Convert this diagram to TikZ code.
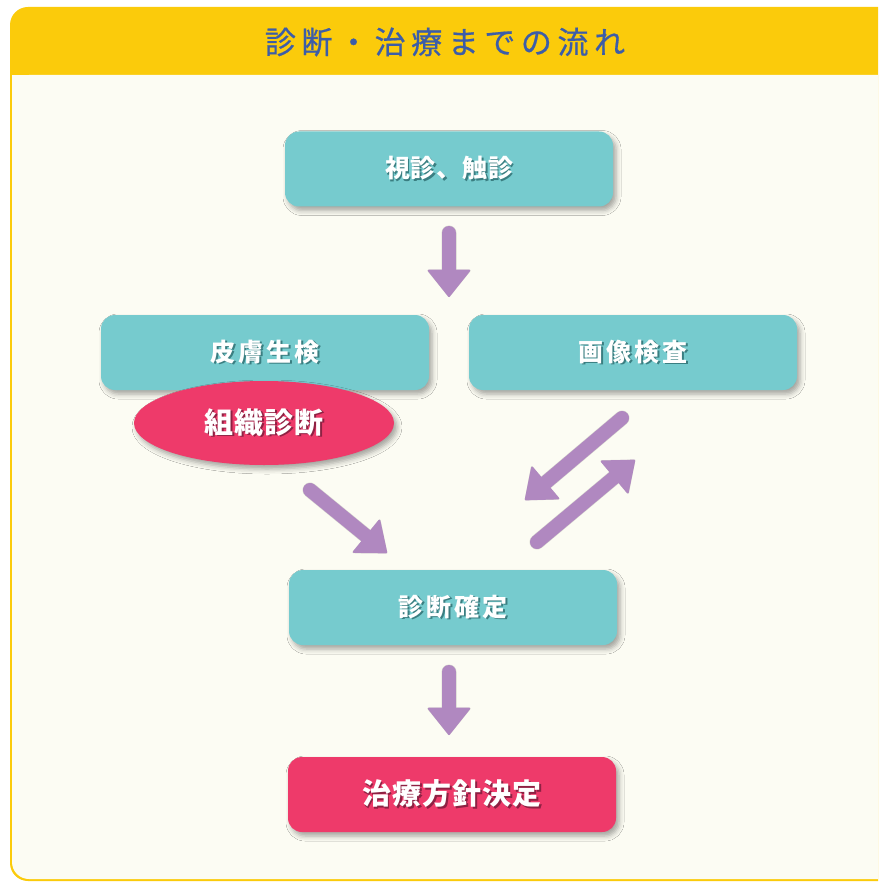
\documentclass[tikz,border=0pt]{standalone}
\usepackage{fontspec}
\newfontfamily\jp{Noto Sans CJK JP}
\usetikzlibrary{arrows.meta,shadows,shadows.blur,shapes.geometric}
\definecolor{frameyellow}{HTML}{FBCB0B}
\definecolor{cream}{HTML}{FCFCF3}
\definecolor{tealbox}{HTML}{76CBCE}
\definecolor{pinkbox}{HTML}{EE3A6A}
\definecolor{arrowpurple}{HTML}{B088C0}
\definecolor{titleblue}{HTML}{3C5DA8}
\definecolor{tealshade}{HTML}{3A7E81}
\definecolor{pinkshade}{HTML}{8E2143}
\newcommand\tsh[2]{\makebox[0pt][l]{\hspace{1.8pt}\raisebox{-1.8pt}{\color{#1}#2}}#2}
\tikzset{
  flowbox/.style={rounded corners=14pt, minimum width=328pt, minimum height=75pt,
    inner sep=0pt, text=white,
    font=\jp\bfseries\fontsize{25}{30}\selectfont\addfontfeatures{LetterSpace=12},
    blur shadow={shadow xshift=3pt, shadow yshift=-4pt, shadow blur radius=5pt, shadow opacity=35}},
  tealstep/.style={flowbox, fill=tealbox},
  pinkstep/.style={flowbox, fill=pinkbox},
  fatarrow/.style={line width=14pt, line cap=round, color=arrowpurple,
    -{Triangle[length=28pt, width=44pt, line width=2pt, round]}},
  fatshadow/.style={line width=15pt, line cap=round, color=black,
    -{Triangle[length=28pt, width=45pt, line width=2pt, round]}}
}
\begin{document}
\begin{tikzpicture}[x=1pt,y=-1pt]
\useasboundingbox (0,0) rectangle (878,882);
\fill[white] (0,0) rectangle (878,882);
\begin{scope}
  \clip (0,0) rectangle (878,882);
  \fill[frameyellow, rounded corners=18pt] (10,7) rectangle (920,881);
  \fill[cream, rounded corners=17pt] (12,75) rectangle (918,879);
  \fill[cream] (12,75) rectangle (918,100);
\end{scope}
\node (title) at (445,42) {\jp\fontsize{31}{36}\selectfont\addfontfeatures{LetterSpace=18,FakeBold=0.6}\color{titleblue}診断・治療までの流れ};

% boxes
\node[tealstep, font=\jp\bfseries\fontsize{25}{30}\selectfont\addfontfeatures{LetterSpace=3}] (visual) at (449,169) {\tsh{tealshade}{視診、触診}};
\node[tealstep] (biopsy) at (265,352.5) {\tsh{tealshade}{皮膚生検}};
\node[tealstep] (imaging) at (633,352.5) {\tsh{tealshade}{画像検査}};
\node[ellipse, fill=pinkbox, minimum width=260pt, minimum height=84pt, inner sep=0pt, text=white,
  font=\jp\bfseries\fontsize{29}{34}\selectfont\addfontfeatures{LetterSpace=4},
  blur shadow={shadow xshift=3pt, shadow yshift=-4pt, shadow blur radius=5pt, shadow opacity=35}]
  (histo) at (264,423) {\tsh{pinkshade}{組織診断}};
\node[tealstep] (confirm) at (453,607.5) {\tsh{tealshade}{診断確定}};
\node[pinkstep, font=\jp\bfseries\fontsize{29}{34}\selectfont\addfontfeatures{LetterSpace=4}] (plan) at (452,794.5) {\tsh{pinkshade}{治療方針決定}};

% arrow end points
\coordinate (a1s) at (449,233);
\coordinate (a1e) at (449,297);
\coordinate (a2s) at (449,672);
\coordinate (a2e) at (449,735);
\coordinate (a3s) at (310,490);
\coordinate (a3e) at (387,553);
\coordinate (a4s) at (622,418);
\coordinate (a4e) at (525,500);
\coordinate (a5s) at (537,542);
\coordinate (a5e) at (635,460);

\begin{scope}[transparency group, opacity=0.15]
  \foreach \s/\e in {a1s/a1e, a2s/a2e, a3s/a3e, a4s/a4e, a5s/a5e}
    \draw[fatshadow, shift={(4,4)}] (\s) -- (\e);
\end{scope}
\foreach \s/\e in {a1s/a1e, a2s/a2e, a3s/a3e, a4s/a4e, a5s/a5e}
  \draw[fatarrow] (\s) -- (\e);
\end{tikzpicture}
\end{document}
